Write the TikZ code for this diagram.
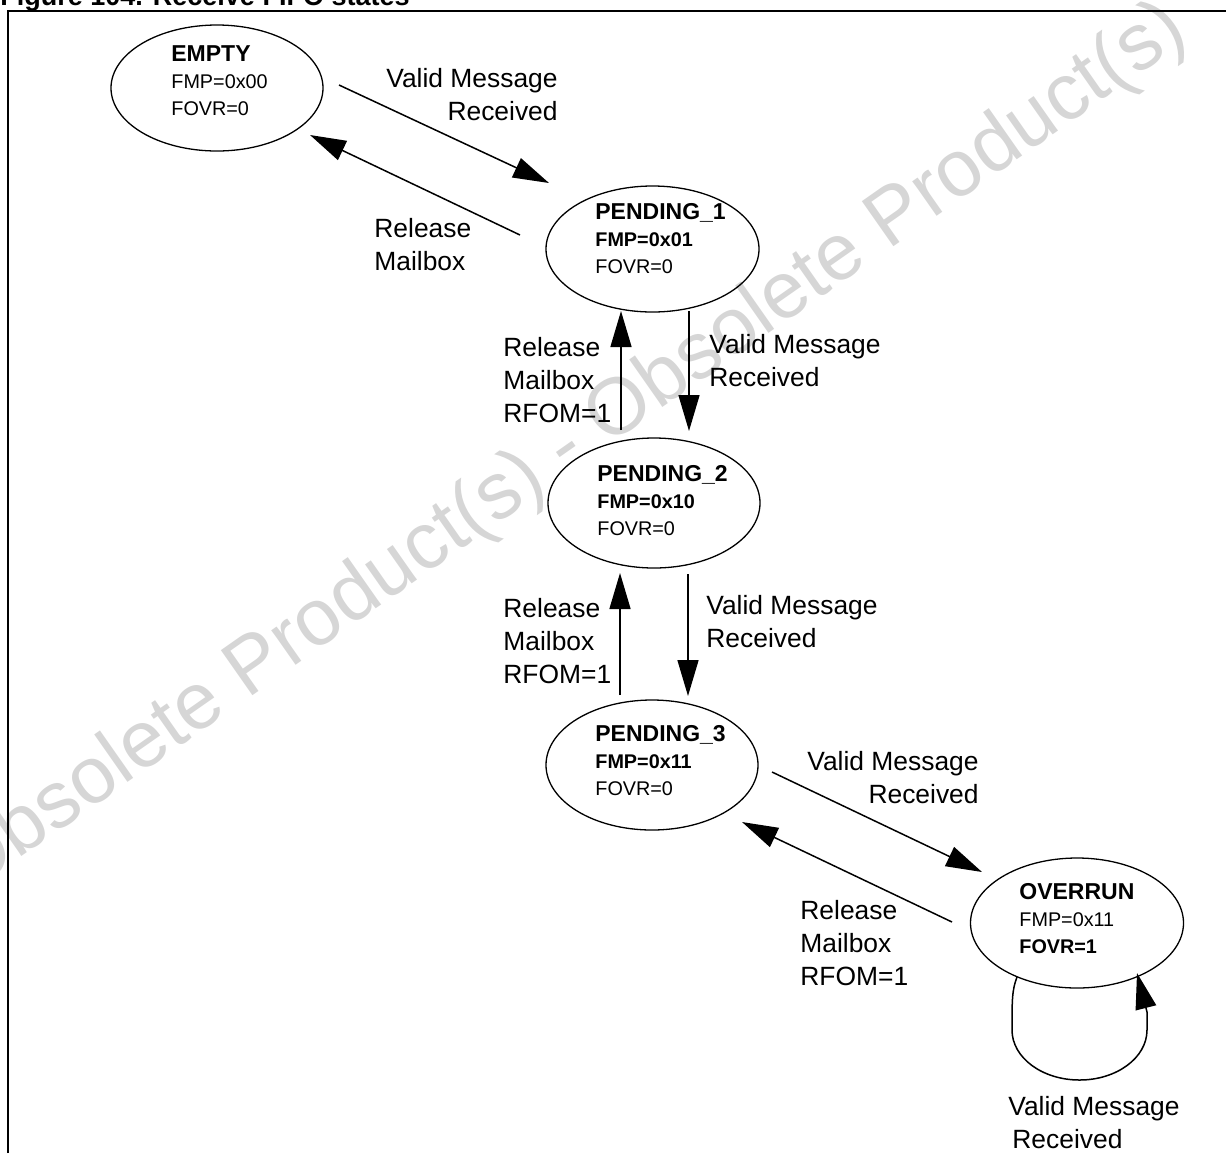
\documentclass[tikz,border=0pt]{standalone}
\usepackage{fontspec}
\setmainfont{Liberation Sans}
\usetikzlibrary{arrows.meta,shapes.geometric}
\definecolor{wmgray}{RGB}{214,214,214}
\newcommand{\stackL}[1]{\vtop{\halign{##\hfil\cr#1\crcr}}}
\newcommand{\stackR}[1]{\vtop{\halign{\hfil##\cr#1\crcr}}}
\newcommand{\sthead}{\fontsize{11.5}{13.5}\selectfont\bfseries}
\begin{document}
\begin{tikzpicture}[x=0.5pt,y=-0.5pt,
  state/.style={draw, ellipse, inner sep=0pt, line width=0.65pt},
  arr/.style={line width=0.75pt, -{Triangle[length=18pt,width=10.5pt]}},
  lbl/.style={inner sep=0pt, font=\fontsize{13.2}{16.5}\selectfont},
  stxt/.style={inner sep=0pt, anchor=base west, font=\fontsize{9.9}{13.5}\selectfont},
  wmark/.style={inner sep=0pt, text=wmgray, font=\fontsize{40}{48}\selectfont}]
\useasboundingbox (0,0) rectangle (1226,1153);
% watermark
\node[wmark, rotate=35] (wm) at (567,450) {Obsolete Product(s) - Obsolete Product(s)};
% title (cut off at the top) and frame
\node[anchor=base west, inner sep=0pt, font=\fontsize{13.5}{16}\selectfont\bfseries] (title) at (0,5) {Figure 104. Receive FIFO states};
\draw[line width=1.1pt] (8,1153) -- (8,11) -- (1226,11);
% states
\node[state, minimum width=106pt, minimum height=63pt] (em) at (217,88) {};
\node[state, minimum width=106.5pt, minimum height=63pt] (p1) at (652.5,249) {};
\node[state, minimum width=106pt, minimum height=65pt] (p2) at (654,503) {};
\node[state, minimum width=106pt, minimum height=65pt] (p3) at (652,765) {};
\node[state, minimum width=106.5pt, minimum height=65pt] (ov) at (1077,923) {};
% state texts
\node[stxt] (emt) at (171,61) {\stackL{{\sthead EMPTY}\cr FMP=0x00\cr FOVR=0}};
\node[stxt] (p1t) at (595,219) {\stackL{{\sthead PENDING\_1}\cr \textbf{FMP=0x01}\cr FOVR=0}};
\node[stxt] (p2t) at (597,481) {\stackL{{\sthead PENDING\_2}\cr \textbf{FMP=0x10}\cr FOVR=0}};
\node[stxt] (p3t) at (595,741) {\stackL{{\sthead PENDING\_3}\cr \textbf{FMP=0x11}\cr FOVR=0}};
\node[stxt] (ovt) at (1019,899) {\stackL{{\sthead OVERRUN}\cr FMP=0x11\cr \textbf{FOVR=1}}};
% transitions
\draw[arr] ([shift={(122,-3)}]em.center) -- ([shift={(-103.5,-66)}]p1.center);
\draw[arr] ([shift={(-132.5,-14)}]p1.center) -- ([shift={(93,47)}]em.center);
\draw[arr] ([shift={(-33,-73)}]p2.center) -- ([shift={(-31.5,62)}]p1.center);
\draw[arr] ([shift={(36.5,62)}]p1.center) -- ([shift={(35,-72)}]p2.center);
\draw[arr] ([shift={(-32,-70)}]p3.center) -- ([shift={(-34,70)}]p2.center);
\draw[arr] ([shift={(34,71)}]p2.center) -- ([shift={(36,-69)}]p3.center);
\draw[arr] ([shift={(120,7)}]p3.center) -- ([shift={(-95,-51)}]ov.center);
\draw[arr] ([shift={(-125,-1)}]ov.center) -- ([shift={(90,57)}]p3.center);
\draw[arr] ([shift={(-60,54)}]ov.center) .. controls +(-5,13) and +(0,-30) .. ++(-5,53)
  arc[start angle=180, end angle=0, x radius=67.5, y radius=50]
  -- ++(0,-18) -- ([shift={(60,50)}]ov.center);
% labels
\node[lbl, anchor=base east] (l1) at (558,87.5) {\stackR{Valid Message\cr Received}};
\node[lbl, anchor=base west] (l2) at (374,237.5) {\stackL{Release\cr Mailbox}};
\node[lbl, anchor=base west] (l3) at (503,356.5) {\stackL{Release\cr Mailbox\cr RFOM=1}};
\node[lbl, anchor=base west] (l4) at (709,353.5) {\stackL{Valid Message\cr Received}};
\node[lbl, anchor=base west] (l5) at (503,617.5) {\stackL{Release\cr Mailbox\cr RFOM=1}};
\node[lbl, anchor=base west] (l6) at (706,614.5) {\stackL{Valid Message\cr Received}};
\node[lbl, anchor=base east] (l7) at (979,770.5) {\stackR{Valid Message\cr Received}};
\node[lbl, anchor=base west] (l8) at (800,919.5) {\stackL{Release\cr Mailbox\cr RFOM=1}};
\node[lbl, anchor=base west] (l9) at (1008,1115.5) {\stackL{Valid Message\cr\hskip2pt Received}};
\end{tikzpicture}
\end{document}
